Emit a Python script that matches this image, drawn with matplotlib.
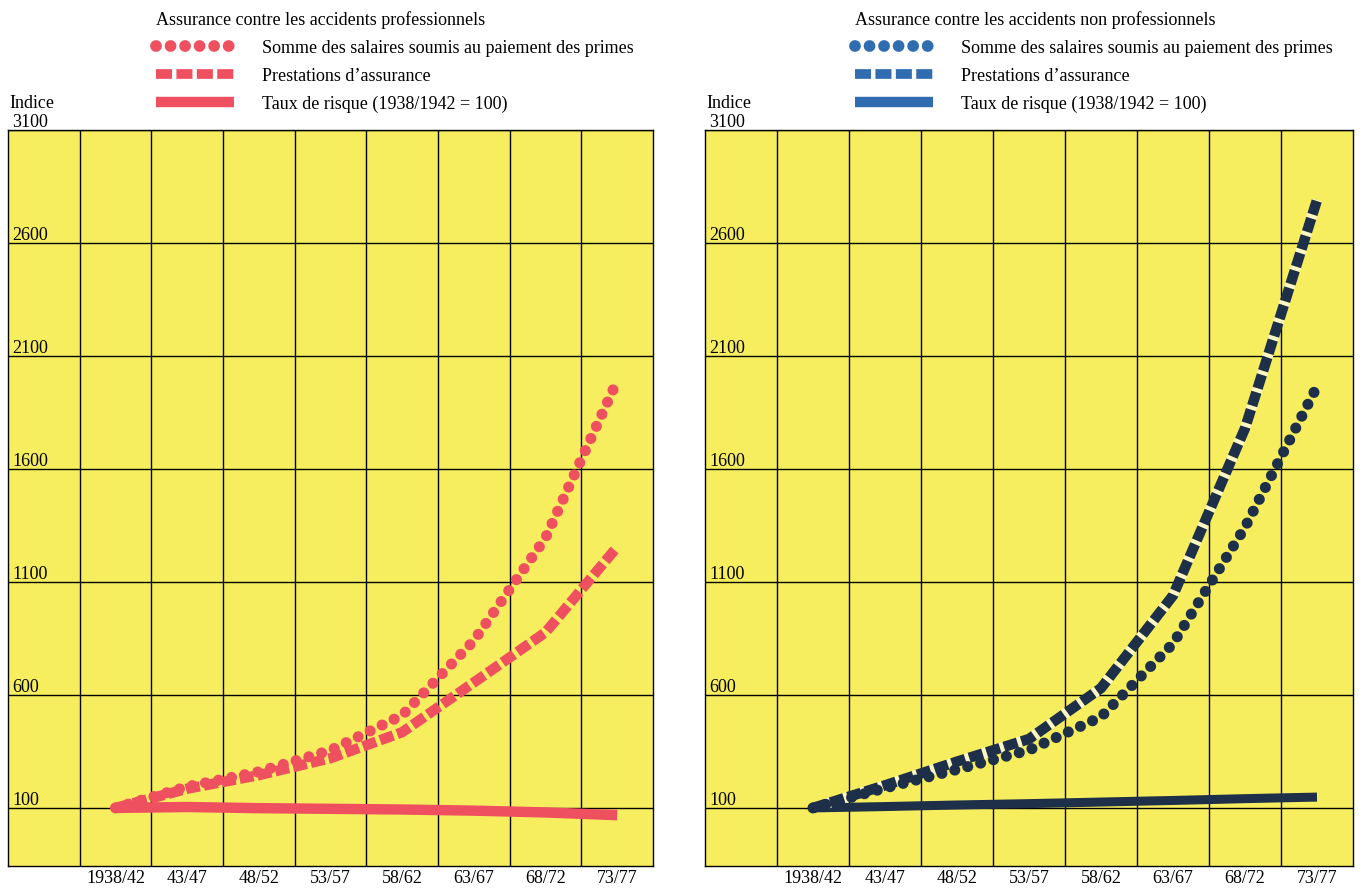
import matplotlib
matplotlib.use("Agg")
import matplotlib.pyplot as plt
from matplotlib.lines import Line2D
from matplotlib.transforms import blended_transform_factory
import numpy as np

plt.rcParams['font.family'] = ['Liberation Serif', 'DejaVu Serif']

# ---------------- data ----------------
periods = ['1938/42', '43/47', '48/52', '53/57', '58/62', '63/67', '68/72', '73/77']
yticks = [100, 600, 1100, 1600, 2100, 2600, 3100]

prof_salaires = [100, 194, 260, 355, 510, 840, 1295, 1990]
prof_prestations = [100, 185, 245, 320, 435, 655, 877, 1255]
prof_taux = [100, 104, 99, 96, 93, 88, 80, 68]

nonprof_salaires = [100, 188, 270, 356, 503, 827, 1342, 1965]
nonprof_prestations = [100, 200, 305, 405, 630, 1040, 1780, 2790]
nonprof_taux = [100, 106, 113, 119, 126, 133, 141, 148]

title_left = "Assurance contre les accidents professionnels"
title_right = "Assurance contre les accidents non professionnels"
labels = ["Somme des salaires soumis au paiement des primes",
          "Prestations d\u2019assurance",
          "Taux de risque (1938/1942 = 100)"]

# ---------------- style ----------------
YELLOW = '#F7EE5F'
RED = '#EF5060'
NAVY = '#1E3049'
BLUE_LEG = '#2F6DB0'

W, H = 1361, 888
fig = plt.figure(figsize=(W / 100, H / 100), dpi=100)
fig.patch.set_facecolor('white')


def px_axes(x0, x1, ytop, ybot):
    return fig.add_axes([x0 / W, 1 - ybot / H, (x1 - x0) / W, (ybot - ytop) / H])


axL = px_axes(8, 653, 130, 866)
axR = px_axes(705, 1353, 130, 866)
x = np.arange(len(periods))


def setup(ax):
    ax.set_facecolor(YELLOW)
    ax.set_xlim(-1.5, len(periods) - 0.5)
    ax.set_ylim(-157, 3100)
    ax.set_xticks(x)
    ax.set_xticklabels(periods)
    ax.set_xticks(np.arange(-0.5, len(periods) - 0.5, 1), minor=True)
    ax.set_yticks(yticks)
    ax.set_yticklabels([])
    ax.grid(True, which='minor', axis='x', color='black', lw=1.0)
    ax.grid(True, which='major', axis='y', color='black', lw=1.0)
    ax.grid(False, which='major', axis='x')
    ax.tick_params(which='both', length=0)
    ax.tick_params(axis='x', labelsize=13, pad=3)
    ax.set_axisbelow(True)
    for s in ax.spines.values():
        s.set_color('black')
        s.set_linewidth(1.0)
    tr = blended_transform_factory(ax.transAxes, ax.transData)
    for v in yticks:
        ax.annotate(str(v), xy=(0, v), xycoords=tr, xytext=(3, -1),
                    textcoords='offset points', ha='left', va='bottom',
                    fontsize=13, annotation_clip=False)
    ax.annotate('Indice', xy=(0, 3100), xycoords=tr, xytext=(1, 13),
                textcoords='offset points', ha='left', va='bottom',
                fontsize=13, annotation_clip=False)


setup(axL)
setup(axR)


def draw(ax, col, sal, pre, tau, taulw, gap=None):
    ax.plot(x, tau, color=col, lw=taulw, solid_capstyle='butt', zorder=3)
    kw = {}
    if gap is not None:
        kw['gapcolor'] = gap
    ax.plot(x, pre, color=col, lw=7.5, linestyle=(0, (1.35, 0.4)),
            dash_capstyle='butt', zorder=4, **kw)
    ax.plot(x, sal, color=col, lw=8, linestyle=(0, (0.001, 1.2)),
            dash_capstyle='round', zorder=5)


draw(axL, RED, prof_salaires, prof_prestations, prof_taux, 7.5)
draw(axR, NAVY, nonprof_salaires, nonprof_prestations, nonprof_taux, 6.5,
     gap='#FBF7C8')


def legend_handles(col):
    return [
        Line2D([], [], color=col, lw=8.5, linestyle=(0, (0.001, 1.23)), dash_capstyle='round'),
        Line2D([], [], color=col, lw=7, linestyle=(0, (1.65, 0.45)), dash_capstyle='butt'),
        Line2D([], [], color=col, lw=7.5, solid_capstyle='butt'),
    ]


def legend(handles, title, xpx):
    leg = fig.legend(handles, labels, loc='upper left',
                     bbox_to_anchor=(xpx / W, 1 - 11 / H), frameon=False,
                     fontsize=13, title=title, title_fontsize=13,
                     alignment='left', handlelength=4.3, handletextpad=1.55,
                     labelspacing=0.6, borderpad=0, borderaxespad=0)
    return leg


legend(legend_handles(RED), title_left, 156)
legend(legend_handles(BLUE_LEG), title_right, 855)

fig.savefig('out.png', dpi=100, facecolor='white')
